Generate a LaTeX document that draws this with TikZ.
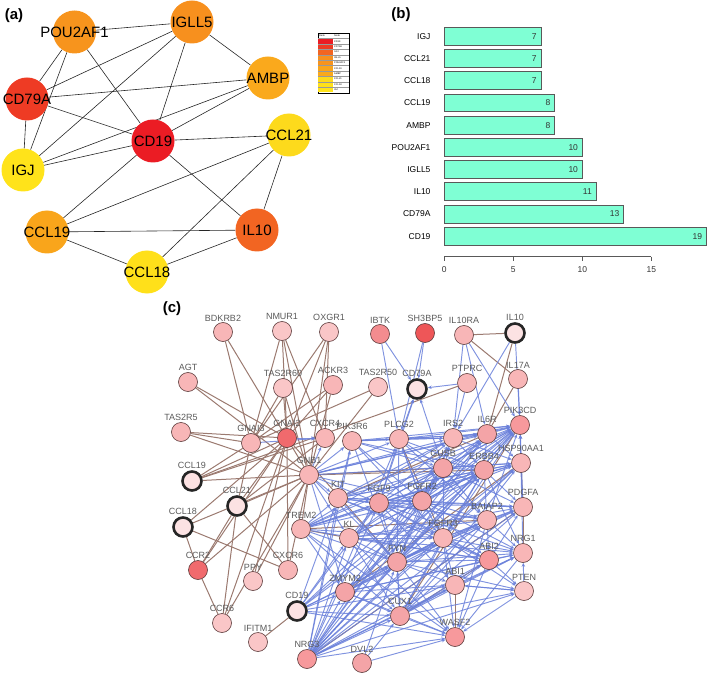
\documentclass[tikz,border=0pt]{standalone}
\usepackage{fontspec}
\setmainfont{Liberation Sans}
\usetikzlibrary{arrows.meta,backgrounds}
% rank colours of panel (a)
\definecolor{rankA}{HTML}{EB1C24}
\definecolor{rankB}{HTML}{EE3B24}
\definecolor{rankC}{HTML}{F26522}
\definecolor{rankD}{HTML}{F7901E}
\definecolor{rankE}{HTML}{F7941D}
\definecolor{rankF}{HTML}{F9A51B}
\definecolor{rankG}{HTML}{FAA91C}
\definecolor{rankH}{HTML}{FDDA1C}
\definecolor{rankI}{HTML}{FFE01A}
\definecolor{rankJ}{HTML}{FFE31A}
% panel (b) and (c)
\definecolor{aqua}{HTML}{7FFFD4}
\definecolor{pinkA}{HTML}{F8B6B7}
\definecolor{pinkB}{HTML}{FAC6C7}
\definecolor{pinkC}{HTML}{F38C8F}
\definecolor{pinkD}{HTML}{F4A4A7}
\definecolor{pinkE}{HTML}{F7999C}
\definecolor{redA}{HTML}{EE5658}
\definecolor{redB}{HTML}{F06A6D}
\definecolor{seedpink}{HTML}{FCE2E3}
\definecolor{nodeline}{HTML}{5A3A3A}
\definecolor{labelgray}{HTML}{5A5A5A}
\definecolor{edgebrown}{HTML}{9B7A70}
\definecolor{edgeblue}{HTML}{6A80DA}
\newcommand{\hubname}[1]{\makebox[0pt]{#1}}
\begin{document}
\begin{tikzpicture}[x=1pt,y=-1pt,
  hub/.style={circle,minimum size=43pt,inner sep=0pt,fill=#1,font=\fontsize{15}{15}\selectfont},
  gene/.style={circle,draw=nodeline,line width=0.6pt,minimum size=19pt,inner sep=0pt,fill=#1},
  gene/.default=pinkA,
  seed/.style={gene=seedpink,draw=black!85,line width=2.6pt},
  every label/.style={text=labelgray,font=\fontsize{9}{9}\selectfont,inner sep=1pt},
  plain/.style={draw=black!85,line width=0.6pt},
  brownline/.style={draw=edgebrown,line width=1pt},
  bluearrow/.style={draw=edgeblue,line width=0.95pt,opacity=0.85,-{Stealth[length=4pt,width=3.5pt]}},
  panel/.style={font=\bfseries\fontsize{15}{15}\selectfont},
  bar/.style={fill=aqua,draw=black!65,line width=0.7pt},
  small/.style={font=\fontsize{8.5}{8.5}\selectfont},
  tiny/.style={font=\fontsize{2.4}{2.4}\selectfont,inner sep=0pt,anchor=west}]
\useasboundingbox (0,0) rectangle (709,676);

% ---------- (a) ----------
\node[panel] (labela) at (14,16) {(a)};
\node[hub=rankA] (cd19) at (153,141) {\hubname{CD19}};
\node[hub=rankB] (cd79a) at (27,99) {\hubname{CD79A}};
\node[hub=rankC] (il10) at (257,230) {\hubname{IL10}};
\node[hub=rankD] (igll5) at (192,22) {\hubname{IGLL5}};
\node[hub=rankE] (pou2af1) at (74.5,32) {\hubname{POU2AF1}};
\node[hub=rankG] (ambp) at (268,78) {\hubname{AMBP}};
\node[hub=rankF] (ccl19) at (47,232) {\hubname{CCL19}};
\node[hub=rankH] (ccl21) at (289,135) {\hubname{CCL21}};
\node[hub=rankI] (ccl18) at (147,272) {\hubname{CCL18}};
\node[hub=rankJ] (igj) at (23,170) {\hubname{IGJ}};
\begin{scope}[on background layer]
  \foreach \s/\t in {pou2af1/igll5,pou2af1/cd79a,pou2af1/igj,pou2af1/cd19,
      igll5/ambp,igll5/cd79a,igll5/igj,igll5/cd19,ambp/cd79a,ambp/cd19,ambp/igj,
      cd79a/igj,cd79a/cd19,cd19/igj,cd19/ccl21,cd19/ccl19,cd19/il10,
      ccl21/ccl19,ccl21/il10,ccl21/ccl18,ccl19/il10,ccl19/ccl18,ccl18/il10}
    \draw[plain] (\s) -- (\t);
\end{scope}
% legend
\draw[line width=0.4pt] (318,33) rectangle (349,93);
\node[tiny] at (319,35.7) {Rank};
\node[tiny] at (334,35.7) {Node};
\foreach \i/\c/\g in {0/rankA/CD19,1/rankB/CD79A,2/rankC/IL10,3/rankD/IGLL5,
    4/rankE/POU2AF1,5/rankF/CCL19,6/rankG/AMBP,7/rankH/CCL21,8/rankI/CCL18,9/rankJ/IGJ} {
  \fill[\c] (318,{38.5+5.4*\i}) rectangle (333,{43.9+5.4*\i});
  \draw[black!40,line width=0.2pt] (318,{38.5+5.4*\i}) -- (349,{38.5+5.4*\i});
  \node[tiny] at (334,{41.2+5.4*\i}) {\g};
}

% ---------- (b) ----------
\node[panel] (labelb) at (401,15) {(b)};
\foreach \i/\g/\v in {0/IGJ/7,1/CCL21/7,2/CCL18/7,3/CCL19/8,4/AMBP/8,
    5/POU2AF1/10,6/IGLL5/10,7/IL10/11,8/CD79A/13,9/CD19/19} {
  \draw[bar] (444.3,{27.3+22.22*\i}) rectangle ({444.3+13.8*\v},{45.1+22.22*\i});
  \node[small,anchor=east] at (434,{36.2+22.22*\i}) {\g};
  \node[small,anchor=east,text=black!80] at ({443.5+13.8*\v},{36.2+22.22*\i}) {\v};
}
\draw[black!65,line width=0.7pt] (444.3,256.7) -- (651.3,256.7);
\foreach \k in {0,5,10,15} {
  \draw[black!65,line width=0.7pt] ({444.3+13.8*\k},256.7) -- ({444.3+13.8*\k},261.5);
  \node[small,text=black!80] at ({444.3+13.8*\k},270) {\k};
}

% ---------- (c) ----------
\node[panel] (labelc) at (172,309) {(c)};
\node[gene,label=above:BDKRB2] (bdkrb2) at (223,332) {};
\node[gene=pinkB,label=above:NMUR1] (nmur1) at (282,331) {};
\node[gene=pinkB,label=above:OXGR1] (oxgr1) at (329,332) {};
\node[gene=pinkC,label=above:IBTK] (ibtk) at (380,334) {};
\node[gene=redA,label=above:SH3BP5] (sh3bp5) at (425,333) {};
\node[gene,label=above:IL10RA] (il10ra) at (464,335) {};
\node[seed,label=above:IL10] (il10c) at (515,333) {};
\node[gene,label=above:AGT] (agt) at (188,382) {};
\node[gene=pinkB,label=above:TAS2R60] (tas2r60) at (283,388) {};
\node[gene,label=above:ACKR3] (ackr3) at (333,385) {};
\node[gene=pinkB,label=above:TAS2R50] (tas2r50) at (378,387) {};
\node[seed,label=above:CD79A] (cd79ac) at (417,389) {};
\node[gene,label=above:PTPRC] (ptprc) at (467,383) {};
\node[gene,label=above:IL17A] (il17a) at (518,379) {};
\node[gene,label=above:TAS2R5] (tas2r5) at (181,432) {};
\node[gene,label=above:GNAI3] (gnai3) at (251,443) {};
\node[gene=redB,label=above:GNAI2] (gnai2) at (287,438) {};
\node[gene,label=above:CXCR4] (cxcr4) at (325,438) {};
\node[gene,label=above:PIK3R6] (pik3r6) at (352,441) {};
\node[gene,label=above:PLCG2] (plcg2) at (399,439) {};
\node[gene,label=above:IRS2] (irs2) at (453,438) {};
\node[gene=pinkD,label=above:IL6R] (il6r) at (487,434) {};
\node[gene=pinkE,label=above:PIK3CD] (pik3cd) at (520,425) {};
\node[gene,label=above:GNB1] (gnb1) at (309,475) {};
\node[gene=pinkD,label=above:GUSB] (gusb) at (443,468) {};
\node[gene=pinkD,label=above:ERBB4] (erbb4) at (484,470) {};
\node[gene,label=above:HSP90AA1] (hsp90) at (521,463) {};
\node[seed,label=above:CCL19] (ccl19c) at (192,481) {};
\node[seed,label=above:CCL21] (ccl21c) at (237,506) {};
\node[gene,label=above:KIT] (kit) at (338,498) {};
\node[gene=pinkD,label=above:FGF9] (fgf9) at (379,503) {};
\node[gene=pinkD,label=above:FGFR2] (fgfr2) at (422,501) {};
\node[gene,label=above:PDGFA] (pdgfa) at (523,507) {};
\node[seed,label=above:CCL18] (ccl18c) at (183,527) {};
\node[gene,label=above:TREM2] (trem2) at (301,529) {};
\node[gene,label=above:KL] (kl) at (349,538) {};
\node[gene,label=above:FGFR3] (fgfr3) at (443,538) {};
\node[gene,label=above:BAIAP2] (baiap2) at (487,520) {};
\node[gene,label=above:NRG1] (nrg1) at (523,553) {};
\node[gene=redB,label=above:CCR2] (ccr2) at (198,570) {};
\node[gene=pinkB,label=above:PPY] (ppy) at (253,581) {};
\node[gene,label=above:CXCR6] (cxcr6) at (288,570) {};
\node[gene=pinkD,label=above:FYN] (fyn) at (397,562) {};
\node[gene=pinkE,label=above:ABI2] (abi2) at (489,560) {};
\node[gene=pinkD,label=above:ZMYM2] (zmym2) at (345,592) {};
\node[gene,label=above:ABI1] (abi1) at (455,585) {};
\node[gene=pinkB,label=above:PTEN] (pten) at (524,591) {};
\node[seed,label=above:CD19] (cd19c) at (297,611) {};
\node[gene=pinkD,label=above:CUX1] (cux1) at (400,616) {};
\node[gene=pinkB,label=above:CCR6] (ccr6) at (222,623) {};
\node[gene=pinkB,label=above:IFITM1] (ifitm1) at (258,642) {};
\node[gene=pinkE,label=above:NRG3] (nrg3) at (307,659) {};
\node[gene=pinkD,label=above:DVL2] (dvl2) at (362,663) {};
\node[gene=pinkE,label=above:WASF2] (wasf2) at (455,637) {};

\begin{scope}[on background layer]
  % shared pathway links
  \foreach \s/\tl in {bdkrb2/{gnai3,gnb1},nmur1/{gnai3,gnai2,gnb1,cxcr4},
      oxgr1/{gnai3,gnai2,gnb1,cxcr4},agt/{gnai2,gnb1},tas2r60/{gnai3,gnai2,gnb1},
      ackr3/{gnai3,gnai2,gnb1},tas2r50/{gnai3,gnb1},tas2r5/{gnai3,gnai2,gnb1},
      ccl19c/{gnai3,gnai2,gnb1,cxcr4},ccl21c/{gnai3,gnai2,gnb1,cxcr4,ccr2,ccr6,cxcr6},
      ccl18c/{gnai2,gnb1,ccr2,cxcr6},ccr2/{gnai2,gnb1},ccr6/{ccr2,gnai2,gnb1},
      ppy/{gnai2,gnb1},cxcr6/{gnai2,gnb1},trem2/{gnb1,kl,baiap2},cd19c/{ifitm1},
      il10c/{il10ra,il6r},il10ra/{il17a},il17a/{il6r},ptprc/{ccl19c},
      nrg3/{pdgfa},zmym2/{hsp90},gnb1/{gusb,erbb4},gnai2/{fyn},cux1/{pik3cd},
      kit/{il6r},hsp90/{pdgfa},pdgfa/{nrg1},abi1/{wasf2},abi2/{cux1},plcg2/{fgfr3}}
    \foreach \t in \tl
      \draw[brownline] (\s) -- (\t);
  % interaction arrows
  \foreach \s/\tl in {ibtk/{cd79ac,plcg2},sh3bp5/{cd79ac,plcg2},ptprc/{cd79ac,irs2},
      il10ra/{irs2,pik3cd,il6r},il10c/{irs2,pik3cd},il17a/{pik3cd},
      gnai3/{cxcr4},gnai2/{cxcr4},gusb/{cd79ac},fgf9/{cd79ac},
      nrg3/{zmym2,cux1,fyn,kl,kit,fgf9,fgfr2,fgfr3,gusb,erbb4,irs2,il6r,pik3cd,hsp90,
        pdgfa,baiap2,nrg1,abi2,abi1,wasf2,pten,plcg2,pik3r6},
      cd19c/{zmym2,cux1,fyn,kl,kit,fgf9,fgfr3,abi1,wasf2,pik3cd,il6r,erbb4},
      trem2/{kit,fyn,zmym2,fgf9,fgfr2,fgfr3,gusb,irs2,erbb4,pik3cd,hsp90,abi2,cux1,wasf2},
      gnb1/{kit,kl,fgf9,fgfr2,irs2,il6r,pik3cd,hsp90,fyn,zmym2,plcg2,pik3r6,cxcr4},
      kit/{fgf9,fgfr2,fgfr3,gusb,irs2,pik3cd,erbb4,hsp90,fyn,abi2,baiap2,pdgfa},
      kl/{fgf9,fgfr2,fgfr3,fyn,gusb,erbb4,pik3cd,baiap2,abi2,nrg1,pdgfa,cux1,wasf2},
      pik3r6/{plcg2,gusb,irs2,il6r,pik3cd,fgfr2,fgfr3,fyn,kit,erbb4},
      plcg2/{cd79ac,gusb,irs2,il6r,pik3cd,fgfr2,fgf9,baiap2,erbb4,fyn},
      fgf9/{fgfr2,fgfr3,fyn,gusb,erbb4,pik3cd,hsp90,pdgfa,baiap2,abi2,abi1,nrg1,irs2},
      fgfr2/{gusb,erbb4,irs2,il6r,pik3cd,hsp90,pdgfa,baiap2,fgfr3,fyn,nrg1,abi2,plcg2},
      fgfr3/{baiap2,abi2,abi1,nrg1,pdgfa,pten,wasf2,fyn,erbb4,pik3cd,hsp90,gusb},
      fyn/{fgfr3,abi2,abi1,baiap2,nrg1,pdgfa,pten,wasf2,erbb4,pik3cd,hsp90,gusb,irs2,il6r,cux1},
      zmym2/{fyn,cux1,abi1,abi2,wasf2,fgfr3,baiap2,nrg1,pdgfa,pik3cd,erbb4,gusb},
      cux1/{fyn,abi1,abi2,wasf2,nrg1,pten,baiap2,pdgfa,fgfr3,erbb4,hsp90},
      gusb/{il6r,pik3cd,erbb4,hsp90,baiap2,pdgfa,irs2},irs2/{il6r,pik3cd,erbb4,hsp90},
      il6r/{pik3cd,hsp90,erbb4},erbb4/{pik3cd,hsp90,pdgfa,baiap2,nrg1},hsp90/{pik3cd},
      baiap2/{pdgfa,nrg1,abi2,wasf2,pik3cd},abi2/{nrg1,pten,wasf2,abi1,pdgfa},
      abi1/{pten,nrg1},pten/{wasf2,nrg1,abi1},nrg1/{wasf2,pik3cd},dvl2/{wasf2,cux1,fyn},
      pdgfa/{pik3cd}}
    \foreach \t in \tl
      \draw[bluearrow] (\s) -- (\t);
\end{scope}
\end{tikzpicture}
\end{document}
